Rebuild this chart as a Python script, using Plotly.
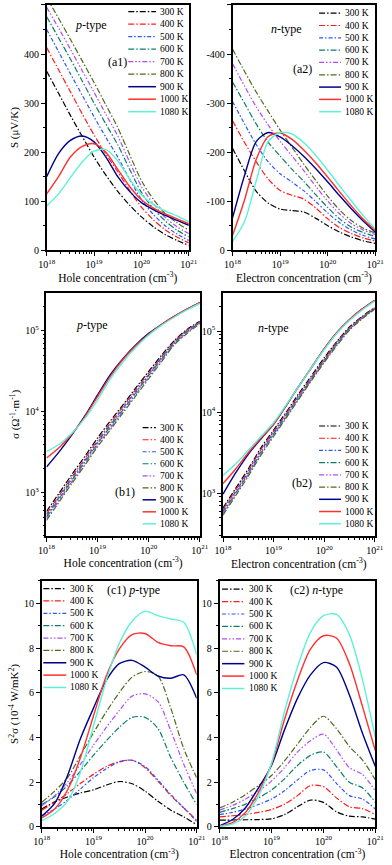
import plotly.graph_objects as go

W, H = 392, 865
FONT = "Liberation Serif, Times New Roman, serif"

# log10 of carrier concentration (cm^-3), shared grid for every curve
LOGN = [18, 18.25, 18.5, 18.75, 19, 19.25, 19.5, 19.75, 20, 20.25, 20.5, 20.75, 21]

TEMPS = ["300 K", "400 K", "500 K", "600 K", "700 K", "800 K", "900 K", "1000 K", "1080 K"]
COLORS = ["#000000", "#ff1a1a", "#2f55ff", "#0b7f6a", "#b14cf5", "#4e6b1c",
          "#00008b", "#ff3030", "#5cf2d6"]
DASHES = ["6px,2px,1.5px,2px", "6px,2px,1.5px,2px", "4px,2px,1.5px,2px",
          "6px,2px,1.5px,2px", "5px,2px,1.5px,2px,1.5px,2px", "6px,2px,1.5px,2px",
          "solid", "solid", "solid"]

# (a1) Seebeck coefficient, p-type (uV/K)
S_P = [
    [365, 320, 275, 232, 190, 153, 120, 92, 68, 48, 32, 20, 10],
    [413, 368, 323, 278, 235, 196, 160, 122, 88, 62, 42, 27, 15],
    [450, 405, 360, 316, 272, 230, 190, 145, 103, 73, 50, 33, 20],
    [476, 433, 390, 345, 300, 257, 215, 165, 118, 85, 60, 41, 27],
    [495, 453, 410, 366, 322, 277, 233, 180, 130, 95, 67, 48, 34],
    [515, 473, 430, 386, 342, 296, 250, 195, 142, 104, 75, 56, 41],
    [150, 197, 224, 233, 221, 190, 150, 120, 97, 83, 71, 61, 51],
    [115, 150, 190, 212, 217, 200, 165, 130, 103, 86, 74, 64, 54],
    [90, 115, 148, 180, 202, 205, 182, 145, 113, 93, 80, 70, 58],
]

# (a2) Seebeck coefficient, n-type (uV/K)
S_N = [
    [-208, -162, -120, -96, -84, -81, -78, -65, -50, -37, -27, -19, -14],
    [-264, -220, -180, -145, -122, -112, -104, -86, -64, -46, -34, -25, -19],
    [-303, -258, -215, -180, -156, -139, -121, -99, -76, -56, -41, -30, -23],
    [-343, -300, -257, -220, -192, -165, -140, -113, -87, -64, -47, -36, -28],
    [-380, -335, -292, -255, -222, -192, -162, -130, -100, -74, -54, -41, -32],
    [-410, -365, -322, -283, -245, -210, -175, -142, -110, -82, -60, -45, -35],
    [-66, -152, -222, -240, -231, -213, -191, -166, -139, -111, -84, -59, -37],
    [-30, -102, -186, -232, -239, -226, -204, -178, -149, -119, -90, -63, -40],
    [-18, -58, -142, -222, -240, -237, -219, -193, -163, -131, -100, -70, -43],
]

# (b1) log10 of electrical conductivity, p-type (ohm^-1 m^-1)
LOG_SIGMA_P = [
    [2.77, 3.00, 3.23, 3.45, 3.68, 3.89, 4.09, 4.30, 4.50, 4.70, 4.88, 5.02, 5.12],
    [2.74, 2.97, 3.20, 3.42, 3.65, 3.86, 4.07, 4.28, 4.48, 4.68, 4.87, 5.01, 5.11],
    [2.72, 2.95, 3.18, 3.40, 3.63, 3.84, 4.05, 4.26, 4.46, 4.67, 4.86, 5.00, 5.11],
    [2.70, 2.93, 3.16, 3.38, 3.61, 3.82, 4.03, 4.24, 4.45, 4.65, 4.85, 4.99, 5.10],
    [2.68, 2.91, 3.14, 3.36, 3.59, 3.80, 4.01, 4.22, 4.43, 4.64, 4.84, 4.98, 5.10],
    [2.66, 2.89, 3.12, 3.34, 3.57, 3.78, 3.99, 4.20, 4.41, 4.62, 4.83, 4.97, 5.09],
    [3.32, 3.51, 3.72, 3.95, 4.21, 4.46, 4.66, 4.83, 4.97, 5.08, 5.18, 5.27, 5.35],
    [3.43, 3.56, 3.73, 3.94, 4.19, 4.44, 4.65, 4.82, 4.96, 5.08, 5.18, 5.27, 5.35],
    [3.51, 3.60, 3.74, 3.92, 4.15, 4.41, 4.62, 4.80, 4.95, 5.07, 5.17, 5.26, 5.34],
]

# (b2) log10 of electrical conductivity, n-type
LOG_SIGMA_N = [
    [2.82, 3.06, 3.30, 3.56, 3.78, 4.00, 4.23, 4.45, 4.67, 4.87, 5.05, 5.18, 5.29],
    [2.80, 3.04, 3.28, 3.54, 3.76, 3.98, 4.21, 4.43, 4.65, 4.86, 5.04, 5.17, 5.29],
    [2.78, 3.02, 3.26, 3.52, 3.75, 3.97, 4.20, 4.42, 4.64, 4.85, 5.03, 5.17, 5.28],
    [2.76, 3.00, 3.24, 3.50, 3.73, 3.95, 4.18, 4.41, 4.63, 4.84, 5.03, 5.16, 5.28],
    [2.75, 2.99, 3.23, 3.49, 3.72, 3.94, 4.17, 4.40, 4.62, 4.83, 5.02, 5.16, 5.27],
    [2.73, 2.97, 3.21, 3.47, 3.70, 3.93, 4.16, 4.39, 4.61, 4.82, 5.01, 5.15, 5.27],
    [2.99, 3.25, 3.48, 3.67, 3.85, 4.08, 4.32, 4.55, 4.78, 4.98, 5.14, 5.27, 5.38],
    [3.12, 3.30, 3.50, 3.68, 3.85, 4.08, 4.32, 4.55, 4.78, 4.98, 5.14, 5.27, 5.38],
    [3.22, 3.36, 3.53, 3.70, 3.87, 4.09, 4.32, 4.55, 4.77, 4.97, 5.13, 5.26, 5.37],
]

# (c1) power factor, p-type (1e-4 W/mK^2)
PF_P = [
    [0.80, 1.12, 1.34, 1.52, 1.66, 1.87, 2.03, 1.93, 1.60, 1.15, 0.75, 0.45, 0.10],
    [0.75, 1.10, 1.50, 1.95, 2.35, 2.70, 2.92, 2.98, 2.65, 2.05, 1.40, 0.85, 0.30],
    [0.50, 0.80, 1.20, 1.70, 2.20, 2.60, 2.90, 2.98, 2.70, 2.10, 1.45, 0.85, 0.25],
    [1.00, 1.35, 1.85, 2.50, 3.20, 3.85, 4.45, 4.90, 4.90, 4.40, 3.10, 2.00, 1.00],
    [0.95, 1.40, 2.00, 2.80, 3.65, 4.45, 5.20, 5.85, 5.95, 5.60, 4.30, 2.80, 1.50],
    [1.10, 1.60, 2.20, 3.20, 4.20, 5.15, 6.00, 6.70, 6.95, 6.75, 5.30, 3.50, 2.20],
    [0.48, 1.05, 2.30, 3.95, 5.30, 6.55, 7.30, 7.45, 7.15, 6.75, 6.65, 6.80, 5.75],
    [0.40, 0.80, 1.65, 3.10, 4.95, 6.75, 7.95, 8.60, 8.65, 8.25, 8.10, 8.05, 6.80],
    [0.28, 0.60, 1.15, 2.45, 4.50, 6.55, 8.20, 9.20, 9.65, 9.45, 9.30, 9.15, 7.70],
]

# (c2) power factor, n-type (1e-4 W/mK^2)
PF_N = [
    [0.30, 0.31, 0.32, 0.33, 0.36, 0.55, 0.90, 1.20, 1.10, 0.68, 0.48, 0.45, 0.35],
    [0.45, 0.50, 0.56, 0.65, 0.78, 1.02, 1.40, 1.85, 1.80, 1.30, 0.90, 0.82, 0.55],
    [0.55, 0.65, 0.80, 1.00, 1.25, 1.62, 2.10, 2.52, 2.55, 1.95, 1.40, 1.25, 0.80],
    [0.65, 0.82, 1.02, 1.30, 1.65, 2.15, 2.75, 3.20, 3.35, 2.70, 2.00, 1.75, 1.10],
    [0.75, 0.96, 1.25, 1.60, 2.05, 2.65, 3.35, 3.85, 4.15, 3.45, 2.65, 2.35, 1.60],
    [0.85, 1.10, 1.45, 1.85, 2.30, 2.95, 3.70, 4.45, 4.95, 4.40, 3.60, 3.00, 2.10],
    [0.05, 0.33, 0.86, 1.75, 2.75, 4.34, 5.75, 6.80, 7.35, 7.15, 5.90, 4.20, 2.70],
    [0.03, 0.19, 0.65, 1.55, 2.80, 4.80, 6.55, 7.95, 8.55, 8.45, 7.30, 5.40, 3.40],
    [0.02, 0.13, 0.50, 1.40, 2.85, 5.15, 7.15, 8.70, 9.45, 9.50, 8.60, 6.60, 4.00],
]

n = [10.0 ** v for v in LOGN]


def px(x):
    return x / W


def py(y):
    return 1 - y / H


# panel boxes in pixels: (left, right, top, bottom)
panels = [
    dict(data=S_P, box=(39.5, 188.5, 5, 252), kind="S"),
    dict(data=S_N, box=(234.3, 384, 5, 252), kind="Sn"),
    dict(data=[[10.0 ** v for v in c] for c in LOG_SIGMA_P], box=(39.3, 200, 295, 539.5), kind="sig"),
    dict(data=[[10.0 ** v for v in c] for c in LOG_SIGMA_N], box=(224.3, 383.3, 295, 540), kind="sig"),
    dict(data=PF_P, box=(34.3, 196.7, 585, 832.7), kind="pf"),
    dict(data=PF_N, box=(220.7, 384, 585, 832.7), kind="pf"),
]

xtitles = ["Hole concentration (cm<sup>-3</sup>)", "Electron concentration (cm<sup>-3</sup>)"]
ytitles = {"S": "S (\u03bcV/K)", "sig": "\u03c3 (\u03a9<sup>-1</sup>\u00b7m<sup>-1</sup>)",
           "pf": "S<sup>2</sup>\u03c3 (10<sup>-4</sup> W/mK<sup>2</sup>)"}

fig = go.Figure()

log_minor = [m * 10.0 ** e for e in range(17, 22) for m in range(2, 10)]
sig_minor = [m * 10.0 ** e for e in range(2, 6) for m in range(2, 10)]

axis_common = dict(showline=True, linecolor="black", linewidth=1.5, mirror=True,
                   ticks="outside", ticklen=4, tickwidth=1, tickcolor="black",
                   showgrid=False, zeroline=False,
                   tickfont=dict(family=FONT, size=10, color="black"))

for i, p in enumerate(panels):
    k = i + 1
    xa = "x" if k == 1 else "x%d" % k
    ya = "y" if k == 1 else "y%d" % k
    left, right, top, bottom = p["box"]
    for j, curve in enumerate(p["data"]):
        fig.add_trace(go.Scatter(
            x=n, y=curve, xaxis=xa, yaxis=ya, mode="lines", showlegend=False,
            name=TEMPS[j],
            line=dict(color=COLORS[j], dash=DASHES[j], width=1.4 if j > 5 else 1.2,
                      shape="spline", smoothing=0.8),
        ))

    xax = dict(axis_common, type="log", range=[18, 21], anchor=ya,
               domain=[px(left), px(right)],
               tickvals=[1e18, 1e19, 1e20, 1e21],
               ticktext=["10<sup>%d</sup>" % e for e in range(18, 22)],
               minor=dict(tickvals=log_minor, ticks="outside", ticklen=2, tickcolor="black"),
               title=dict(text=xtitles[i % 2], font=dict(family=FONT, size=11.5, color="black"),
                          standoff=2))
    yax = dict(axis_common, anchor=xa, domain=[py(bottom), py(top)])
    kind = p["kind"]
    if kind == "S":
        yax.update(range=[0, 500], tickvals=[0, 100, 200, 300, 400, 500],
                   minor=dict(dtick=50, ticks="outside", ticklen=2, tickcolor="black"))
    elif kind == "Sn":
        yax.update(range=[0, -500], tickvals=[0, -100, -200, -300, -400, -500],
                   ticktext=["0", "-100", "-200", "-300", "-400", "-500"],
                   minor=dict(dtick=50, ticks="outside", ticklen=2, tickcolor="black"))
    elif kind == "sig":
        yax.update(type="log", range=[2.47, 5.47], tickvals=[1e3, 1e4, 1e5],
                   ticktext=["10<sup>3</sup>", "10<sup>4</sup>", "10<sup>5</sup>"],
                   minor=dict(tickvals=sig_minor, ticks="outside", ticklen=2, tickcolor="black"))
    else:
        yax.update(range=[0, 11.0], tickvals=[0, 2, 4, 6, 8, 10],
                   minor=dict(dtick=1, ticks="outside", ticklen=2, tickcolor="black"))
    if i % 2 == 0:
        yax["title"] = dict(text=ytitles["S" if kind == "S" else kind],
                            font=dict(family=FONT, size=11, color="black"), standoff=3)
    fig.layout["xaxis" if k == 1 else "xaxis%d" % k] = xax
    fig.layout["yaxis" if k == 1 else "yaxis%d" % k] = yax

# hand-drawn compact legends: (line start, line end, text x, first row y, row step)
legends = [
    (125, 154, 156, 11.7, 12.6),
    (325, 348, 350, 13.3, 12.4),
    (140, 154, 156, 430.7, 12.1),
    (325, 348, 350, 429, 12.3),
    (36, 60, 61.7, 592.7, 12.45),
    (223.3, 246.7, 249, 593.3, 12.5),
]
shapes = []
annotations = []
for (x0, x1, xt, y0, dy) in legends:
    for j in range(len(TEMPS)):
        yy = py(y0 + j * dy)
        shapes.append(dict(type="line", xref="paper", yref="paper",
                           x0=px(x0), x1=px(x1), y0=yy, y1=yy,
                           line=dict(color=COLORS[j], dash=DASHES[j],
                                     width=1.5 if j > 5 else 1.2)))
        annotations.append(dict(xref="paper", yref="paper", x=px(xt), y=yy,
                                text=TEMPS[j], showarrow=False, xanchor="left",
                                yanchor="middle",
                                font=dict(family=FONT, size=9.5, color="black")))

labels = [
    ("<i>p</i>-type", 85.5, 25), ("(a1)", 114, 62),
    ("<i>n</i>-type", 291, 29), ("(a2)", 307.5, 69),
    ("<i>p</i>-type", 87.5, 327.7), ("(b1)", 122, 495.7),
    ("<i>n</i>-type", 277, 330), ("(b2)", 307.5, 486.7),
    ("(c1) <i>p</i>-type", 131, 594), ("(c2) <i>n</i>-type", 322, 594),
]
for text, x, y in labels:
    annotations.append(dict(xref="paper", yref="paper", x=px(x), y=py(y), text=text,
                            showarrow=False, xanchor="center", yanchor="middle",
                            font=dict(family=FONT, size=12, color="black")))

fig.update_layout(width=W, height=H, margin=dict(l=0, r=0, t=0, b=0),
                  paper_bgcolor="white", plot_bgcolor="white",
                  font=dict(family=FONT, color="black"),
                  shapes=shapes, annotations=annotations, showlegend=False)

# drop the page's default body margin so the figure fills the window
fig.write_html("out.html", config={"displayModeBar": False},
               post_script="document.body.style.margin='0';")
